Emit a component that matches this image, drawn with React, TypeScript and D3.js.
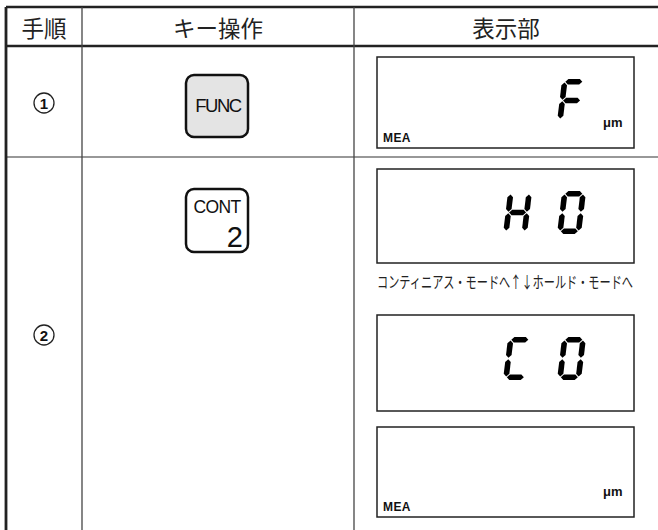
import React from 'react';
import * as d3 from 'd3';

// table content
const headers = ['手順', 'キー操作', '表示部'];
const steps = ['1', '2'];
const keyTop = ['FUNC', 'CONT'];
const keySub = ['', '2'];
const keyFill = ['#e4e4e4', '#ffffff'];
const displayDigits = [['', 'F'], ['H', '0'], ['C', '0'], ['', '']];
const displayUnits = [true, false, false, true];
const modeNote = 'コンティニアス・モードへ↑↓ホールド・モードへ';

// layout
const W = 658;
const H = 530;
const colWidths = [76, 272, 304];
const left = 6;
const top = 7;
const headerBottom = 46;
const rowBottoms = [157, H];
const stepY = [103, 335];
const keyY = [75, 189];
const keySize = 62;
const boxTop = [57, 169, 315, 427];
const boxH = [91, 94, 96, 90];
const boxInset = 23;
const boxW = 257;
const noteSize = 16;

// segment order: a b c d e f g
const segMap: Record<string, string> = {
  F: 'aefg',
  H: 'bcefg',
  '0': 'abcdef',
  C: 'adef',
};

const colEdges = [left, ...d3.cumsum(colWidths).map((d) => d + left)];
const colCenter = (i: number) => (colEdges[i] + colEdges[i + 1]) / 2;

function segPolys(ch: string, x0: number, y0: number) {
  const w = 24;
  const h = 43;
  const t = 5.6;
  const g = 0.7;
  const slant = 0.12;
  const L = t / 2;
  const R = w - t / 2;
  const T = t / 2;
  const M = h / 2;
  const B = h - t / 2;
  const hs = (x1: number, x2: number, y: number): [number, number][] => [
    [x1 + g, y], [x1 + g + t / 2, y - t / 2], [x2 - g - t / 2, y - t / 2],
    [x2 - g, y], [x2 - g - t / 2, y + t / 2], [x1 + g + t / 2, y + t / 2],
  ];
  const vs = (x: number, y1: number, y2: number): [number, number][] => [
    [x, y1 + g], [x + t / 2, y1 + g + t / 2], [x + t / 2, y2 - g - t / 2],
    [x, y2 - g], [x - t / 2, y2 - g - t / 2], [x - t / 2, y1 + g + t / 2],
  ];
  const segs: Record<string, [number, number][]> = {
    a: hs(L, R, T),
    b: vs(R, T, M),
    c: vs(R, M, B),
    d: hs(L, R, B),
    e: vs(L, M, B),
    f: vs(L, T, M),
    g: hs(L, R, M),
  };
  const line = d3.line().curve(d3.curveLinearClosed);
  return (segMap[ch] || '').split('').map((s) =>
    line(segs[s].map(([x, y]) => [x0 + x + slant * (h - y), y0 + y]))
  );
}

const cjk = '"Noto Sans CJK JP", sans-serif';
const sans = '"Liberation Sans", Arial, sans-serif';

export default function App() {
  const boxX = colEdges[2] + boxInset;
  // the note is set in a condensed face: squeeze full-width glyphs to the box width
  const noteScale = boxW / (Array.from(modeNote).length * noteSize);
  return (
    <svg width={W} height={H} style={{ position: 'absolute', left: 0, top: 0 }}>
      <rect width={W} height={H} fill="#fff" />
      {/* grid */}
      <line x1={left} x2={W} y1={top} y2={top} stroke="#222" strokeWidth={2.5} />
      <line x1={left} x2={W} y1={headerBottom} y2={headerBottom} stroke="#222" strokeWidth={2.5} />
      <line x1={left} x2={W} y1={rowBottoms[0]} y2={rowBottoms[0]} stroke="#333" strokeWidth={1.2} />
      <line x1={left} x2={left} y1={top} y2={H} stroke="#222" strokeWidth={2.8} />
      {colEdges.slice(1, 3).map((x, i) => (
        <line key={i} x1={x} x2={x} y1={top} y2={H} stroke="#444" strokeWidth={1.3} />
      ))}
      {headers.map((h, i) => (
        <text key={h} x={colCenter(i)} y={27} textAnchor="middle" dominantBaseline="central"
          fontFamily={cjk} fontSize={22.5} fill="#222">{h}</text>
      ))}
      {/* step numbers */}
      {steps.map((s, i) => (
        <g key={s}>
          <circle cx={colCenter(0)} cy={stepY[i]} r={10} fill="none" stroke="#222" strokeWidth={1.3} />
          <text x={colCenter(0)} y={stepY[i] + 5.5} textAnchor="middle" fontFamily={sans}
            fontWeight="bold" fontSize={15} fill="#111">{s}</text>
        </g>
      ))}
      {/* keys */}
      {keyTop.map((k, i) => {
        const x = colCenter(1) - keySize / 2 - 1;
        const y = keyY[i];
        return (
          <g key={k}>
            <rect x={x} y={y} width={keySize} height={keySize + (i === 1 ? 1 : 0)} rx={8} fill={keyFill[i]}
              stroke="#111" strokeWidth={2.5} />
            {keySub[i] ? (
              <>
                <text x={x + keySize / 2} y={y + 24} textAnchor="middle" fontFamily={sans}
                  fontSize={17.5} letterSpacing={-0.6} fill="#111">{k}</text>
                <text x={x + keySize - 5} y={y + 58} textAnchor="end" fontFamily={sans}
                  fontSize={29} fill="#111">{keySub[i]}</text>
              </>
            ) : (
              <text x={x + keySize / 2 + 1} y={y + 37} textAnchor="middle" fontFamily={sans}
                fontSize={18.5} letterSpacing={-1.5} fill="#111">{k}</text>
            )}
          </g>
        );
      })}
      {/* displays */}
      {displayDigits.map((digits, i) => (
        <g key={i}>
          <rect x={boxX} y={boxTop[i]} width={boxW} height={boxH[i]} fill="#fff" stroke="#222" strokeWidth={1.5} />
          {digits.map((ch, j) =>
            segPolys(ch, boxX + 126 + j * 54, boxTop[i] + 22).map((d, k) => (
              <path key={`${j}-${k}`} d={d || ''} fill="#000" />
            ))
          )}
          {displayUnits[i] && (
            <>
              <text x={boxX + 6} y={boxTop[i] + boxH[i] - 6} fontFamily={sans} fontWeight="bold"
                fontSize={12} letterSpacing={0.4} fill="#111">MEA</text>
              <text x={boxX + 226} y={boxTop[i] + boxH[i] - 21} fontFamily={sans} fontWeight="bold"
                fontSize={13} fill="#111">μm</text>
            </>
          )}
        </g>
      ))}
      <text transform={`translate(${boxX},288) scale(${noteScale},1)`} fontFamily={cjk}
        fontSize={noteSize} fill="#222">{modeNote}</text>
    </svg>
  );
}
